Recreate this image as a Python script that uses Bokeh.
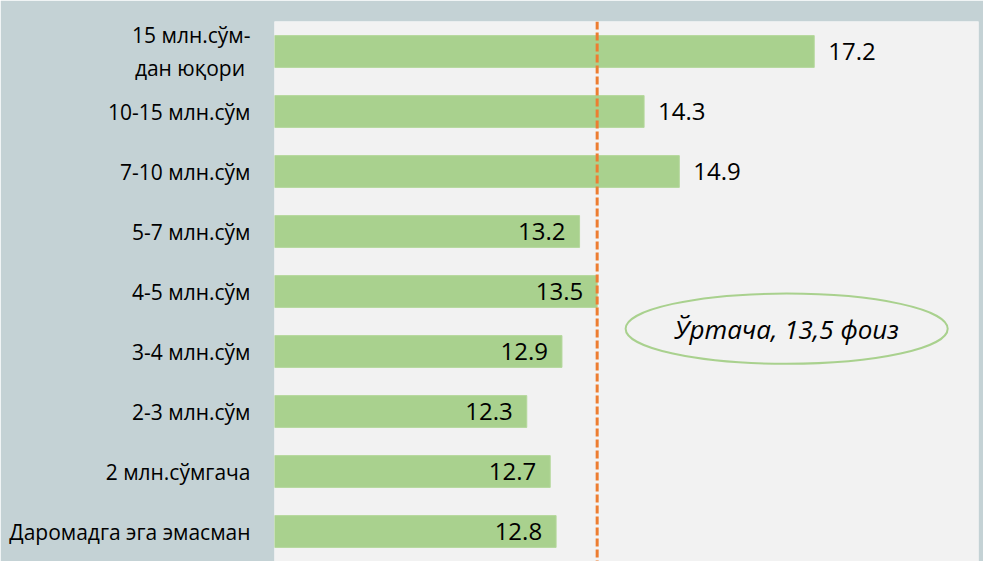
from bokeh.plotting import figure
from bokeh.models import ColumnDataSource, Range1d, FixedTicker, Span
from bokeh.core.properties import value
from bokeh.embed import file_html
from bokeh.resources import INLINE

# ---- data (top to bottom as displayed) ----
categories = [
    "15 млн.сўм-\nдан юқори\u00a0",
    "10-15 млн.сўм",
    "7-10 млн.сўм",
    "5-7 млн.сўм",
    "4-5 млн.сўм",
    "3-4 млн.сўм",
    "2-3 млн.сўм",
    "2 млн.сўмгача",
    "Даромадга эга эмасман",
]
values = [17.2, 14.3, 14.9, 13.2, 13.5, 12.9, 12.3, 12.7, 12.8]
average = 13.5
average_label = "Ўртача, 13,5 фоиз"
x_start, x_end = 8, 20

FONT = "Open Sans"
n = len(categories)
ys = [n - 1 - i for i in range(n)]

p = figure(width=983, height=561, x_range=Range1d(x_start, x_end),
           y_range=Range1d(-0.5, n - 0.5),
           output_backend="svg", toolbar_location=None)
p.min_border_left = 274
p.min_border_top = 21
p.min_border_right = 5
p.min_border_bottom = 0
p.background_fill_color = "#f2f2f2"
p.border_fill_color = "#c4d2d5"
p.outline_line_color = None
p.xgrid.visible = False
p.ygrid.visible = False
p.xaxis.visible = False

src = ColumnDataSource(dict(y=ys, v=values))
p.hbar(y="y", left=x_start, right="v", height=0.53, source=src,
       fill_color="#a9d18e", line_color="#b5d89c", line_width=1)

inside = [i for i, v in enumerate(values) if v <= average]
outside = [i for i, v in enumerate(values) if v > average]
src_in = ColumnDataSource(dict(y=[ys[i] for i in inside], v=[values[i] for i in inside],
                               lab=[f"{values[i]:.1f}" for i in inside]))
src_out = ColumnDataSource(dict(y=[ys[i] for i in outside], v=[values[i] for i in outside],
                                lab=[f"{values[i]:.1f}" for i in outside]))
p.text(x="v", y="y", text="lab", source=src_in, text_align="right",
       text_baseline="middle", x_offset=-14, text_font=value(FONT),
       text_font_size="24px", text_color="#000000")
p.text(x="v", y="y", text="lab", source=src_out, text_align="left",
       text_baseline="middle", x_offset=14, text_font=value(FONT),
       text_font_size="24px", text_color="#000000")

p.add_layout(Span(location=average, dimension="height", line_color="#ed7d31",
                  line_width=3, line_dash="8 3"))

ex, ey = 16.73, 3.38
p.ellipse(x=[ex], y=[ey], width=5.49, height=1.17, fill_color=None,
          line_color="#a9d18e", line_width=2)
p.text(x=[ex], y=[ey], text=[average_label], text_align="center",
       text_baseline="middle", text_font=value(FONT), text_font_style="italic",
       text_font_size="26px", text_color="#000000")

yax = p.yaxis[0]
yax.ticker = FixedTicker(ticks=ys)
yax.major_label_overrides = {y: c for y, c in zip(ys, categories)}
yax.major_label_text_font = FONT
yax.major_label_text_font_size = "21px"
yax.major_label_text_color = "#000000"
yax.major_label_standoff = 18
yax.axis_line_color = None
yax.major_tick_line_color = None
yax.minor_tick_line_color = None

open("out.html", "w").write(file_html(p, INLINE))
